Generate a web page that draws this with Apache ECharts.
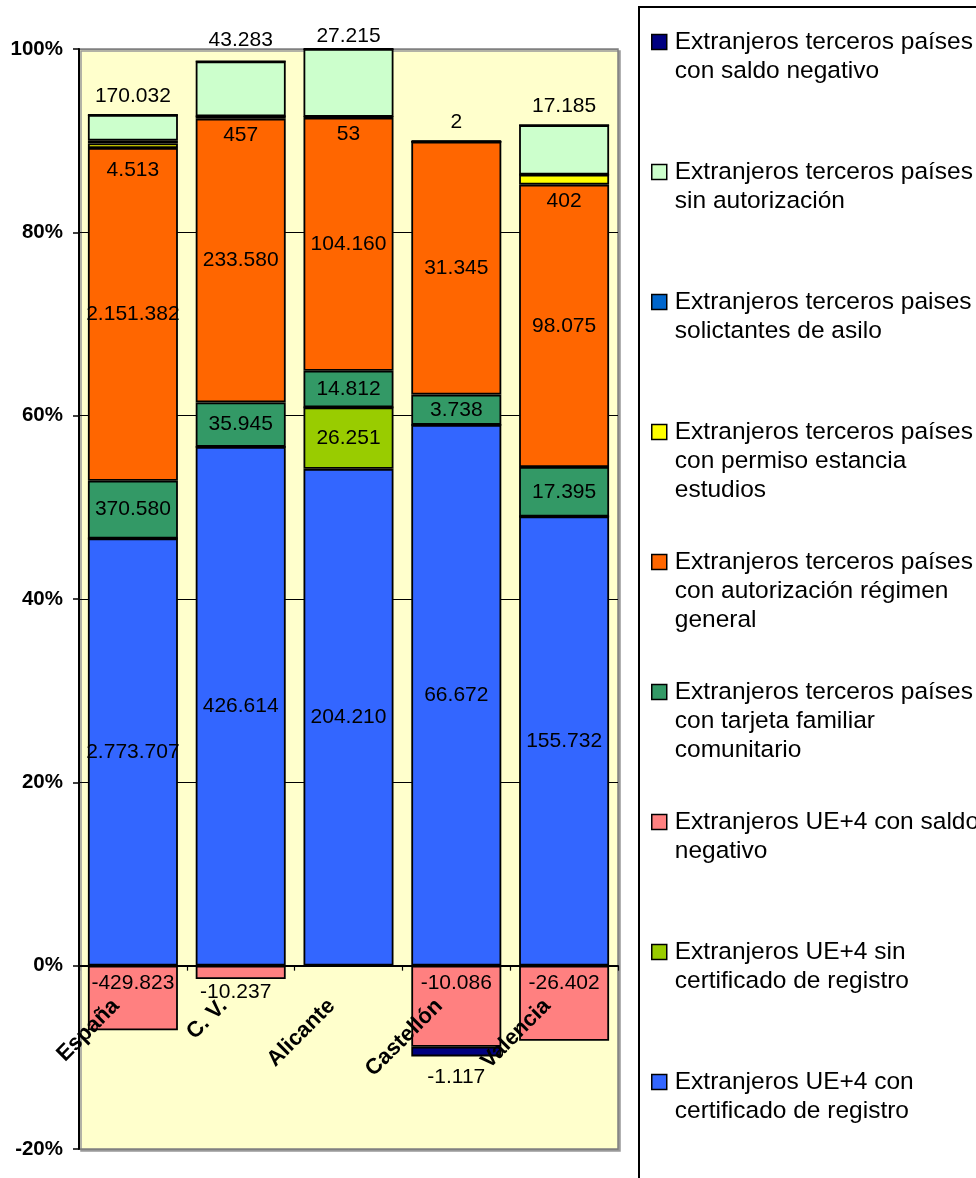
<!DOCTYPE html>
<html>
<head>
<meta charset="utf-8">
<script src="https://cdn.jsdelivr.net/npm/echarts@6/dist/echarts.min.js"></script>
<style>
  html, body { margin: 0; padding: 0; background: #fff; }
  #my_chart { width: 976px; height: 1178px; }
</style>
</head>
<body>
<div id="my_chart"></div>
<script>
  var FONT = 'Liberation Sans, Arial, sans-serif';

  var categories = ['España', 'C. V.', 'Alicante', 'Castellón', 'Valencia'];

  // share of the total (%) for each segment
  var ueConCert = [46.6, 56.6, 54.2, 59.0, 49.0];
  var ueSinCert = [0, 0, 6.7, 0, 0];
  var ueNegativo = [-7.05, -1.45, 0, -8.85, -8.2];
  var tarjetaFamiliar = [6.3, 4.85, 4.0, 3.3, 5.4];
  var regimenGeneral = [36.3, 30.95, 27.6, 27.6, 30.8];
  var estudios = [0.5, 0.25, 0.1, 0, 1.1];
  var asilo = [0.3, 0, 0, 0, 0];
  var sinAutorizacion = [2.8, 6.0, 7.4, 0.1, 5.4];
  var tercerosNegativo = [0, 0, 0, -1.05, 0];

  // the counts printed on the segments
  var ueConCertLbl = ['2.773.707', '426.614', '204.210', '66.672', '155.732'];
  var ueSinCertLbl = ['', '', '26.251', '', ''];
  var ueNegativoLbl = ['-429.823', '-10.237', '', '-10.086', '-26.402'];
  var tarjetaFamiliarLbl = ['370.580', '35.945', '14.812', '3.738', '17.395'];
  var regimenGeneralLbl = ['2.151.382', '233.580', '104.160', '31.345', '98.075'];
  var estudiosLbl = ['4.513', '457', '53', '', '402'];
  var asiloLbl = ['', '', '', '', ''];
  var sinAutorizacionLbl = ['170.032', '43.283', '27.215', '2', '17.185'];
  var tercerosNegativoLbl = ['', '', '', '-1.117', ''];

  var N_TERC_NEG = 'Extranjeros terceros países\ncon saldo negativo';
  var N_SIN_AUT = 'Extranjeros terceros países\nsin autorización';
  var N_ASILO = 'Extranjeros terceros paises\nsolictantes de asilo';
  var N_ESTUDIOS = 'Extranjeros terceros países\ncon permiso estancia\nestudios';
  var N_GENERAL = 'Extranjeros terceros países\ncon autorización régimen\ngeneral';
  var N_TARJETA = 'Extranjeros terceros países\ncon tarjeta familiar\ncomunitario';
  var N_UE_NEG = 'Extranjeros UE+4 con saldo\nnegativo';
  var N_UE_SIN = 'Extranjeros UE+4 sin\ncertificado de registro';
  var N_UE_CON = 'Extranjeros UE+4 con\ncertificado de registro';

  var legendOrder = [N_TERC_NEG, N_SIN_AUT, N_ASILO, N_ESTUDIOS, N_GENERAL, N_TARJETA, N_UE_NEG, N_UE_SIN, N_UE_CON];

  function makeSeries(name, values, labels, color, pos, dist, overrides) {
    return {
      name: name,
      type: 'bar',
      stack: 'total',
      barWidth: 90,
      itemStyle: { color: color, borderColor: '#000', borderWidth: 1.8 },
      label: {
        show: true, position: pos, distance: dist,
        color: '#000', fontSize: 21, fontFamily: FONT,
        formatter: function (p) { return labels[p.dataIndex]; }
      },
      data: values.map(function (v, i) {
        var item = { value: v };
        if (overrides && overrides[i]) item.label = overrides[i];
        return item;
      })
    };
  }

  var series = [
    makeSeries(N_UE_CON, ueConCert, ueConCertLbl, '#3366FF', 'inside', 0),
    makeSeries(N_UE_SIN, ueSinCert, ueSinCertLbl, '#99CC00', 'inside', 0),
    makeSeries(N_UE_NEG, ueNegativo, ueNegativoLbl, '#FF8080', 'insideTop', 7, { 1: { position: 'bottom', distance: 3, offset: [-5, 0] } }),
    makeSeries(N_TARJETA, tarjetaFamiliar, tarjetaFamiliarLbl, '#339966', 'inside', 0),
    makeSeries(N_GENERAL, regimenGeneral, regimenGeneralLbl, '#FF6600', 'inside', 0),
    makeSeries(N_ESTUDIOS, estudios, estudiosLbl, '#FFFF00', 'bottom', 6, { 0: { distance: 12 } }),
    makeSeries(N_ASILO, asilo, asiloLbl, '#0066CC', 'inside', 0),
    makeSeries(N_SIN_AUT, sinAutorizacion, sinAutorizacionLbl, '#CCFFCC', 'top', 8, { 1: { distance: 11 }, 2: { distance: 2 } }),
    makeSeries(N_TERC_NEG, tercerosNegativo, tercerosNegativoLbl, '#000080', 'bottom', 10)
  ];

  // one legend block per entry; blank lines in front of the name keep
  // the square level with the first line of text
  var legends = legendOrder.map(function (n, i) {
    var lines = n.split('\n').length;
    var lead = new Array(lines).join('\n');
    return {
      data: [n],
      orient: 'vertical',
      left: 651,
      top: 42 + 130 * i - (lines - 0.5) * 29,
      padding: 0,
      icon: 'rect',
      itemWidth: 15,
      itemHeight: 15,
      itemStyle: { borderColor: '#000', borderWidth: 1.5 },
      formatter: function (name) { return lead + name; },
      textStyle: {
        fontSize: 24.5, lineHeight: 29, color: '#000', fontFamily: FONT,
        padding: [0, 0, 0, 3]
      }
    };
  });

  var my_chart = echarts.init(document.getElementById('my_chart'));
  my_chart.setOption({
    animation: false,
    backgroundColor: '#fff',
    textStyle: { fontFamily: FONT },
    legend: legends,
    graphic: [{
      type: 'rect',
      shape: { x: 639, y: 7, width: 400, height: 1300 },
      style: { fill: 'none', stroke: '#000', lineWidth: 2 },
      silent: true
    }],
    grid: {
      left: 79, right: 358, top: 49, bottom: 29,
      show: true, backgroundColor: '#FFFFCC',
      borderColor: '#808080', borderWidth: 1.5,
      shadowColor: '#999', shadowOffsetX: 2, shadowOffsetY: 2,
      outerBoundsMode: 'none'
    },
    xAxis: {
      type: 'category',
      data: categories,
      z: 5,
      // axis drawn on the 0% line (1100px plot, 20% below zero)
      offset: -1100 * 20 / 120,
      axisLine: { onZero: false, lineStyle: { color: '#000', width: 1.8 } },
      axisTick: { show: true, length: 5, lineStyle: { color: '#000', width: 1.2 } },
      axisLabel: {
        interval: 0, rotate: 45, margin: 20, padding: [0, 24, 0, 0],
        fontSize: 22, fontWeight: 'bold', color: '#000', fontFamily: FONT
      },
      splitLine: { show: false }
    },
    yAxis: {
      type: 'value',
      min: -20, max: 100, interval: 20,
      axisLine: { show: true, lineStyle: { color: '#000', width: 2 } },
      axisTick: { show: true, length: 6, lineStyle: { color: '#000', width: 1.5 } },
      axisLabel: {
        formatter: '{value}%', margin: 16,
        fontSize: 20.5, fontWeight: 'bold', color: '#000', fontFamily: FONT
      },
      splitLine: {
        show: true,
        lineStyle: { color: ['#808080', '#000', '#000', '#000', '#000', '#000', '#808080'], width: 1 }
      }
    },
    series: series
  });
</script>
</body>
</html>
